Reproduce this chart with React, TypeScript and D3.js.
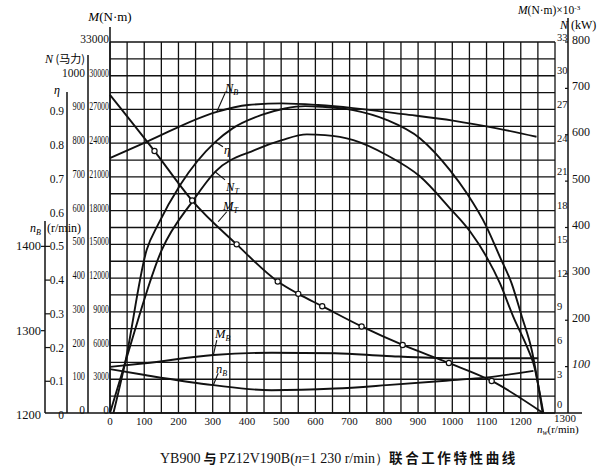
import * as d3 from "d3";

// turbine torque M_T (N·m) vs output speed n_w (r/min)
const mtRpm = [0, 130, 240, 370, 490, 550, 620, 735, 855, 990, 1115, 1265];
const mtTorque = [28300, 23300, 18900, 15000, 11700, 10600, 9500, 7700, 6050, 4450, 2850, 0];

// turbine power N_T (hp)
const ntRpm = [0, 44, 151, 242, 307, 424, 502, 575, 628, 711, 808, 906, 993, 1052, 1100, 1139, 1178, 1222, 1237, 1266];
const ntPower = [0, 148, 483, 629, 715, 780, 809, 826, 824, 809, 765, 701, 607, 538, 463, 385, 286, 187, 147, 0];

// efficiency η
const etaRpm = [10, 44, 107, 141, 205, 307, 358, 443, 511, 570, 618, 710, 808, 906, 993, 1042, 1100, 1139, 1173, 1203, 1232, 1264];
const etaValue = [0, 0.148, 0.483, 0.56, 0.676, 0.803, 0.844, 0.884, 0.903, 0.91, 0.908, 0.898, 0.869, 0.814, 0.72, 0.652, 0.552, 0.463, 0.385, 0.286, 0.187, 0];

// pump power N_B (hp)
const nbRpm = [0, 107, 312, 403, 502, 608, 710, 857, 1002, 1130, 1246];
const nbPower = [756, 804, 893, 913, 918, 913, 904, 886, 867, 844, 819];

// pump torque M_B (N·m)
const mbRpm = [0, 102, 302, 472, 657, 808, 1002, 1251];
const mbTorque = [4100, 4420, 5160, 5360, 5310, 5070, 4870, 4870];

// pump speed n_B (r/min)
const nsRpm = [0, 102, 302, 472, 657, 808, 1002, 1095, 1237];
const nsSpeed = [1252, 1245, 1233, 1227, 1229, 1233, 1239, 1242, 1250];

// tick labels
const xTicks = [0, 100, 200, 300, 400, 500, 600, 700, 800, 900, 1000, 1100, 1200, 1300];
const mTicks = [0, 3000, 6000, 9000, 12000, 15000, 18000, 21000, 24000, 27000, 30000, 33000];
const hpTicks = [0, 100, 200, 300, 400, 500, 600, 700, 800, 900, 1000];
const etaTicks = [0, 0.1, 0.2, 0.3, 0.4, 0.5, 0.6, 0.7, 0.8, 0.9];
const nsTicks = [1200, 1300, 1400];
const mkTicks = [0, 3, 6, 9, 12, 15, 18, 21, 24, 27, 30, 33];
const kwTicks = [100, 200, 300, 400, 500, 600, 700, 800];

// curve labels: [rpm, M-equivalent] for leader start, leader end, text start
const curveLabels = [
  { name: "N", sub: "B", from: [312, 26800], to: [336, 28450], at: [336, 28900] },
  { name: "η", sub: "", from: [307, 24130], to: [330, 23690], at: [333, 23400] },
  { name: "N", sub: "T", from: [307, 21460], to: [336, 20730], at: [339, 20100] },
  { name: "M", sub: "T", from: [316, 17010], to: [341, 17900], at: [330, 18400] },
  { name: "M", sub: "B", from: [302, 5160], to: [312, 6490], at: [307, 7030] },
  { name: "n", sub: "B", from: [302, 2490], to: [316, 3530], at: [310, 3910] },
];

const serif = "'Liberation Serif', 'Times New Roman', 'DejaVu Serif', serif";
const cjk = "'Noto Sans CJK SC', sans-serif";

export default function App() {
  const width = 612;
  const height = 470;
  const left = 110;
  const right = 555;
  const top = 42;
  const bottom = 413;

  const x = d3.scaleLinear().domain([0, 1300]).range([left, right]);
  const yM = d3.scaleLinear().domain([0, 33000]).range([bottom, top]);
  const yHp = d3.scaleLinear().domain([0, 1100]).range([bottom, top]);
  const yEta = d3.scaleLinear().domain([0, 1.1]).range([bottom, top]);
  const yNs = d3.scaleLinear().domain([1200, 1640]).range([bottom, top]);
  const yKw = d3.scaleLinear().domain([0, 800]).range([bottom, top]);
  const yMk = d3.scaleLinear().domain([0, 33]).range([bottom, top]);

  const path = (xs: number[], ys: number[], y: d3.ScaleLinear<number, number>) =>
    d3
      .line<number>()
      .x((_, i) => x(xs[i]))
      .y((d) => y(d))
      .curve(d3.curveMonotoneX)(ys) || "";

  const vGrid = d3.range(0, 1301, 50);
  const hGrid = d3.range(0, 33001, 1500);

  const curves = [
    path(mtRpm, mtTorque, yM),
    path(ntRpm, ntPower, yHp),
    path(etaRpm, etaValue, yEta),
    path(nbRpm, nbPower, yHp),
    path(mbRpm, mbTorque, yM),
    path(nsRpm, nsSpeed, yNs),
  ];

  return (
    <svg
      width={width}
      height={height}
      style={{ position: "absolute", left: 0, top: 0, background: "#fff", fontFamily: serif }}
    >
      <rect width={width} height={height} fill="#fff" />

      {/* grid */}
      <g stroke="#111" strokeWidth={1.3}>
        {vGrid.map((v) => (
          <line key={"v" + v} x1={x(v)} x2={x(v)} y1={top} y2={bottom} />
        ))}
        {hGrid.map((v) => (
          <line key={"h" + v} x1={left} x2={right} y1={yM(v)} y2={yM(v)} />
        ))}
      </g>

      {/* axis lines */}
      <g stroke="#111" strokeWidth={1.5}>
        <line x1={45} x2={582} y1={bottom} y2={bottom} />
        <line x1={left} x2={left} y1={27} y2={bottom} />
        <line x1={88} x2={88} y1={55} y2={bottom} />
        <line x1={67} x2={67} y1={92} y2={bottom} />
        <line x1={45} x2={45} y1={221} y2={bottom} />
        <line x1={568} x2={568} y1={18} y2={bottom} />
      </g>

      {/* left M axis */}
      <g fontSize={11.5} textAnchor="end" fill="#111">
        {mTicks.map((v) => (
          <text
            key={v}
            x={109}
            y={yM(v) + 1}
            textLength={v > 0 && v < 33000 ? String(v).length * 3.95 : undefined}
            lengthAdjust="spacingAndGlyphs"
          >
            {v}
          </text>
        ))}
      </g>
      <text x={left} y={21} fontSize={13} textAnchor="middle">
        <tspan fontStyle="italic">M</tspan>(N·m)
      </text>

      {/* N (hp) axis */}
      <g fontSize={11.5} textAnchor="end" fill="#111">
        {hpTicks.map((v) => (
          <text
            key={v}
            x={85}
            y={yHp(v) + 1}
            textLength={v > 0 && v < 1000 ? 12.5 : undefined}
            lengthAdjust="spacingAndGlyphs"
          >
            {v}
          </text>
        ))}
      </g>
      <text x={85} y={63} fontSize={12} textAnchor="end">
        <tspan fontStyle="italic">N</tspan>
        <tspan fontFamily={cjk} fontSize={11}> (马力)</tspan>
      </text>

      {/* η axis */}
      <g fontSize={11.5} textAnchor="end" fill="#111">
        {etaTicks.map((v) => (
          <text key={v} x={64} y={yEta(v) + 6}>
            {v === 0 ? "0" : v.toFixed(1)}
          </text>
        ))}
      </g>
      <g stroke="#111" strokeWidth={1.2}>
        {etaTicks
          .filter((v) => v > 0 && v <= 0.5)
          .map((v) => (
            <line key={v} x1={45} x2={50} y1={yEta(v) + 2} y2={yEta(v) + 2} />
          ))}
      </g>
      <text x={57} y={94} fontSize={12} fontStyle="italic" textAnchor="middle">
        η
      </text>

      {/* n_B axis */}
      <g fontSize={12.5} textAnchor="end" fill="#111">
        {nsTicks.map((v) => (
          <text key={v} x={41} y={yNs(v) + 6}>
            {v}
          </text>
        ))}
      </g>
      <g stroke="#111" strokeWidth={1.2}>
        {nsTicks
          .filter((v) => v > 1200)
          .map((v) => (
            <line key={v} x1={41} x2={45} y1={yNs(v) + 2} y2={yNs(v) + 2} />
          ))}
      </g>
      <text x={30} y={232} fontSize={12}>
        <tspan fontStyle="italic">n</tspan>
        <tspan fontSize={8} dy={3} fontStyle="italic">B</tspan>
        <tspan x={47} dy={-3}>(r/min)</tspan>
      </text>

      {/* x axis */}
      <g fontSize={11} textAnchor="middle" fill="#111">
        {xTicks.map((v, i) => (
          <text
            key={v}
            x={x(v) + (i === xTicks.length - 1 ? 10 : 0)}
            y={i === xTicks.length - 1 ? 422 : 425}
          >
            {v}
          </text>
        ))}
      </g>
      <text x={537} y={433} fontSize={11}>
        <tspan fontStyle="italic">n</tspan>
        <tspan fontSize={7.5} dy={2} fontStyle="italic">w</tspan>
        <tspan dy={-2}>(r/min)</tspan>
      </text>

      {/* right M ×10^-3 axis */}
      <g fontSize={10.5} textAnchor="start" fill="#111">
        {mkTicks.map((v) => (
          <text key={v} x={557} y={yMk(v) - (v === 0 ? 5 : 1.5)}>
            {v}
          </text>
        ))}
      </g>
      <text x={518} y={14} fontSize={11.5}>
        <tspan fontStyle="italic">M</tspan>(N·m)×10
        <tspan fontSize={7} dy={-4}>-3</tspan>
      </text>

      {/* right N (kW) axis */}
      <g stroke="#111" strokeWidth={1.2}>
        {kwTicks.map((v) => (
          <line key={v} x1={565} x2={568} y1={yKw(v)} y2={yKw(v)} />
        ))}
      </g>
      <g fontSize={12} textAnchor="start" fill="#111">
        {kwTicks.map((v) => (
          <text key={v} x={572} y={yKw(v) + 1.5} fontStyle={v === 100 ? "italic" : undefined}>
            {v}
          </text>
        ))}
      </g>
      <text x={560} y={29} fontSize={12}>
        <tspan fontStyle="italic">N</tspan>
        <tspan x={571}>(kW)</tspan>
      </text>

      {/* curves */}
      <g fill="none" stroke="#111" strokeWidth={1.9} strokeLinejoin="round">
        {curves.map((d, i) => (
          <path key={i} d={d} />
        ))}
      </g>

      {/* test points on M_T */}
      <g fill="#fff" stroke="#111" strokeWidth={1.2}>
        {mtRpm.slice(1, -1).map((r, i) => (
          <circle key={r} cx={x(r)} cy={yM(mtTorque[i + 1])} r={2.6} />
        ))}
      </g>

      {/* curve labels */}
      {curveLabels.map((c, i) => (
        <g key={i}>
          <line
            x1={x(c.from[0])}
            y1={yM(c.from[1])}
            x2={x(c.to[0])}
            y2={yM(c.to[1])}
            stroke="#111"
            strokeWidth={1.1}
          />
          <text x={x(c.at[0])} y={yM(c.at[1]) + 4} fontSize={12.5} fontStyle="italic">
            {c.name}
            {c.sub && (
              <tspan fontSize={8} dy={3}>
                {c.sub}
              </tspan>
            )}
          </text>
        </g>
      ))}

      {/* caption */}
      <text x={160} y={463} fontSize={14} fill="#111">
        YB900
        <tspan fontFamily={cjk} fontWeight="bold" fontSize={13}> 与 </tspan>
        PZ12V190B(<tspan fontStyle="italic">n</tspan>=1 230 r/min）
        <tspan fontFamily={cjk} fontWeight="bold" fontSize={13.5} letterSpacing={2.6}>联合工作特性曲线</tspan>
      </text>
    </svg>
  );
}
